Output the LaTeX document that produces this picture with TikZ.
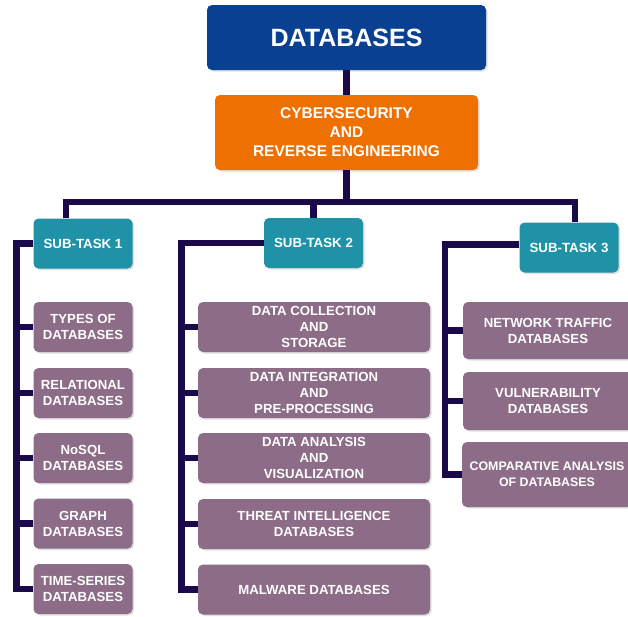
\documentclass[tikz,border=0pt]{standalone}
\usepackage{fontspec}
\setsansfont{Liberation Sans}
\usetikzlibrary{shadows}
\definecolor{dbblue}{RGB}{10,64,145}
\definecolor{cyborange}{RGB}{238,112,0}
\definecolor{taskteal}{RGB}{32,146,168}
\definecolor{leafmauve}{RGB}{140,108,134}
\definecolor{linknavy}{RGB}{26,10,75}

\begin{document}
\begin{tikzpicture}[x=1pt, y=-1pt,
    box/.style={rounded corners=5pt, text=white, align=center, inner sep=1pt,
        font=\sffamily\bfseries\fontsize{13.2}{16}\selectfont,
        drop shadow={opacity=.25, shadow xshift=1.5pt, shadow yshift=-1.5pt}},
    task/.style={box, fill=taskteal, minimum width=99pt, minimum height=50pt,
        font=\sffamily\bfseries\fontsize{13.3}{16}\selectfont},
    leaf/.style={box, fill=leafmauve, minimum height=50pt},
    link/.style={draw=linknavy, line width=6.5pt}]
\useasboundingbox (0,0) rectangle (628,616);
\clip (0,0) rectangle (628,616);

% top of the tree
\node[box, fill=dbblue, minimum width=279pt, minimum height=65pt,
    font=\sffamily\bfseries\fontsize{25}{29}\selectfont] (db) at (346.5,37.5) {DATABASES};
\node[box, fill=cyborange, minimum width=263pt, minimum height=75pt,
    font=\sffamily\bfseries\fontsize{15.5}{19}\selectfont] (cyber) at (346.5,132.5)
    {CYBERSECURITY\\AND\\REVERSE ENGINEERING};

\node[task] (st1) at (83,243.5) {SUB-TASK 1};
\node[task] (st2) at (313.5,243) {SUB-TASK 2};
\node[task] (st3) at (569,247.5) {SUB-TASK 3};

% sub-task 1
\node[leaf, minimum width=99pt] (types) at (83,327) {TYPES OF\\DATABASES};
\node[leaf, minimum width=99pt] (rel) at (83,393) {RELATIONAL\\DATABASES};
\node[leaf, minimum width=99pt] (nosql) at (83,458) {NoSQL\\DATABASES};
\node[leaf, minimum width=99pt] (graph) at (83,523.5) {GRAPH\\DATABASES};
\node[leaf, minimum width=99pt] (tseries) at (83,589) {TIME-SERIES\\DATABASES};

% sub-task 2
\node[leaf, minimum width=232pt] (collect) at (314,327) {DATA COLLECTION\\AND\\STORAGE};
\node[leaf, minimum width=232pt] (integ) at (314,393) {DATA INTEGRATION\\AND\\PRE-PROCESSING};
\node[leaf, minimum width=232pt] (analysis) at (314,458) {DATA ANALYSIS\\AND\\VISUALIZATION};
\node[leaf, minimum width=232pt] (threat) at (314,524) {THREAT INTELLIGENCE\\DATABASES};
\node[leaf, minimum width=232pt] (malware) at (314,589.5) {MALWARE DATABASES};

% sub-task 3
\node[leaf, minimum width=170pt, minimum height=57pt] (traffic) at (548,330.5) {NETWORK TRAFFIC\\DATABASES};
\node[leaf, minimum width=170pt, minimum height=58pt] (vuln) at (548,401) {VULNERABILITY\\DATABASES};
\node[leaf, minimum width=170pt, minimum height=65pt,
    font=\sffamily\bfseries\fontsize{12.4}{16}\selectfont] (compare) at (547,474.5)
    {COMPARATIVE ANALYSIS\\OF DATABASES};

% connectors
\coordinate (bus) at (345,202);
\coordinate (drop1) at (66,202);
\coordinate (drop3) at (575,202);
\coordinate (sp1) at (16.5,0);
\coordinate (sp2) at (181.5,0);
\coordinate (sp3) at (445,0);

\draw[link] (db) -- (cyber);
\draw[link] (cyber) -- (cyber.south |- bus);
\draw[link] (drop1 |- st1.north) -- (drop1) -- (drop3) -- (drop3 |- st3.north);
\draw[link] (st2.north) -- (st2.north |- bus);

\draw[link] (st1.west) -| (sp1 |- tseries) -- (tseries.west);
\foreach \leaf in {types,rel,nosql,graph}
    \draw[link] (\leaf.west) -- (\leaf.west -| sp1);

\draw[link] (st2.west) -| (sp2 |- malware) -- (malware.west);
\foreach \leaf in {collect,integ,analysis,threat}
    \draw[link] (\leaf.west) -- (\leaf.west -| sp2);

\draw[link] ([yshift=3pt]st3.west) -| (sp3 |- compare) -- (compare.west);
\foreach \leaf in {traffic,vuln}
    \draw[link] (\leaf.west) -- (\leaf.west -| sp3);

\end{tikzpicture}
\end{document}
